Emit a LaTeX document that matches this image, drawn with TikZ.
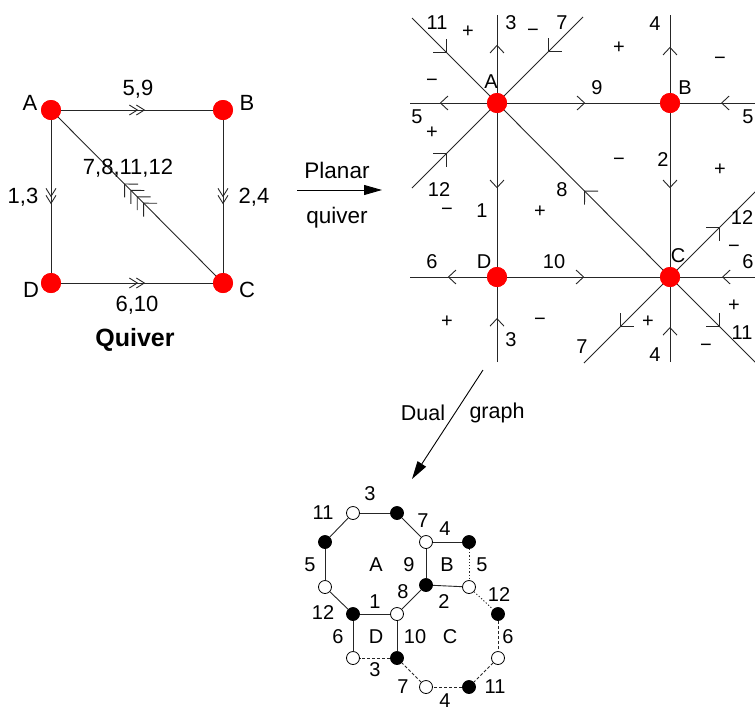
\documentclass[tikz,border=0pt]{standalone}
\usepackage{fontspec}
\setmainfont{Liberation Sans}
\usetikzlibrary{arrows.meta,decorations.markings}
\tikzset{
  tipO/.tip={Straight Barb[length=7.5pt,width=14pt]},
  tipD/.tip={Straight Barb[length=9.5pt,width=19pt]},
  tipS/.tip={Straight Barb[length=8pt,width=10pt]},
}
\begin{document}
\begin{tikzpicture}[x=1pt,y=-1pt,
  qlbl/.style={font=\fontsize{22}{24}\selectfont, inner sep=0pt},
  lbl/.style={font=\fontsize{20}{22}\selectfont, inner sep=0pt},
  captxt/.style={font=\fontsize{22.5}{24}\selectfont, inner sep=0pt},
  sgn/.style={font=\fontsize{20}{22}\selectfont, inner sep=0pt},
  ttl/.style={font=\fontsize{25}{28}\selectfont\bfseries, inner sep=0pt},
  reddot/.style={circle, fill=red, minimum size=20pt, inner sep=0pt},
  bdot/.style={circle, draw=black, fill=black, line width=0.8pt, minimum size=13pt, inner sep=0pt},
  wdot/.style={circle, draw=black, fill=white, line width=0.8pt, minimum size=13pt, inner sep=0pt},
  edge/.style={line width=0.9pt, draw=black!85},
  dedge/.style={line width=0.9pt, draw=black!85, dash pattern=on 3pt off 2pt},
  oedge/.style={line width=0.9pt, draw=black!85, dash pattern=on 1.2pt off 2pt},
  mk/.style 2 args={postaction={decorate,decoration={markings,mark=at position #2 with {\arrow{#1}}}}},
  mkk/.style n args={3}{postaction={decorate,decoration={markings,mark=at position #2 with {\arrow{#1}},mark=at position #3 with {\arrow{#1}}}}},
  mkkkk/.style n args={5}{postaction={decorate,decoration={markings,mark=at position #2 with {\arrow{#1}},mark=at position #3 with {\arrow{#1}},mark=at position #4 with {\arrow{#1}},mark=at position #5 with {\arrow{#1}}}}},
  bigarrow/.style={line width=0.9pt, -{Triangle[length=18pt,width=10pt]}},
]
\useasboundingbox (0,0) rectangle (755,713);

% ---------------- Quiver ----------------
\node[reddot] (qA) at (51,110) {};
\node[reddot] (qB) at (223,110) {};
\node[reddot] (qC) at (223,283) {};
\node[reddot] (qD) at (51,283) {};
\draw[edge, mkk={tipS}{77pt}{84pt}] (qA) -- (qB);
\draw[edge, mkk={tipS}{77pt}{84pt}] (qA) -- (qD);
\draw[edge, mkk={tipS}{77pt}{84pt}] (qB) -- (qC);
\draw[edge, mkk={tipS}{77pt}{84pt}] (qD) -- (qC);
\draw[edge, mkkkk={tipD}{103pt}{112pt}{121pt}{130pt}] (qC) -- (qA);
\node[reddot] at (qA) {};
\node[reddot] at (qB) {};
\node[reddot] at (qC) {};
\node[reddot] at (qD) {};
\node[qlbl] (tqA) at (30,103) {A};
\node[qlbl] (tqB) at (247,103) {B};
\node[qlbl] (tqC) at (247,290) {C};
\node[qlbl] (tqD) at (31,290) {D};
\node[qlbl] (l59) at (138,89) {5,9};
\node[qlbl] (l13) at (23,197) {1,3};
\node[qlbl] (l24) at (254,197) {2,4};
\node[qlbl] (l610) at (137,305) {6,10};
\node[qlbl] (l7) at (128,168) {7,8,11,12};
\node[ttl] (tq) at (135,340) {Quiver};

% ---------------- Planar arrow ----------------
\coordinate (pa1) at (297,190);
\coordinate (pa2) at (382,190);
\draw[bigarrow] (pa1) -- (pa2);
\node[captxt] (tpl) at (337,170) {Planar};
\node[captxt] (tqv) at (337,218) {quiver};

% ---------------- Planar quiver ----------------
\node[reddot] (A) at (497,103) {};
\node[reddot] (B) at (670,103) {};
\node[reddot] (C) at (670,277) {};
\node[reddot] (D) at (497,277) {};
\coordinate (h1l) at (410,103);
\coordinate (h1r) at (760,103);
\coordinate (h2l) at (410,277);
\coordinate (h2r) at (760,277);
\coordinate (v1t) at (497,15);
\coordinate (v1b) at (497,362);
\coordinate (v2t) at (670,15);
\coordinate (v2b) at (670,362);
\coordinate (d11) at (412,18);
\coordinate (d7) at (583,17);
\coordinate (d12) at (412,188);
\coordinate (e12) at (760,187);
\coordinate (e7) at (584,363);
\coordinate (e11) at (760,367);

\draw[edge, mk={tipO}{47pt}] (A) -- (h1l);
\draw[edge, mk={tipO}{78pt}] (A) -- (B);
\draw[edge, mk={tipO}{39pt}] (h1r) -- (B);
\draw[edge, mk={tipO}{48pt}] (A) -- (v1t);
\draw[edge, mk={tipO}{75pt}] (A) -- (D);
\draw[edge, mk={tipO}{44pt}] (v1b) -- (D);
\draw[edge, mk={tipO}{46pt}] (B) -- (v2t);
\draw[edge, mk={tipO}{75pt}] (B) -- (C);
\draw[edge, mk={tipO}{35pt}] (v2b) -- (C);
\draw[edge, mk={tipO}{39pt}] (D) -- (h2l);
\draw[edge, mk={tipO}{77pt}] (D) -- (C);
\draw[edge, mk={tipO}{38pt}] (h2r) -- (C);
\draw[edge, mk={tipD}{49.5pt}] (d11) -- (A);
\draw[edge, mk={tipD}{49.5pt}] (d7) -- (A);
\draw[edge, mk={tipD}{49.5pt}] (d12) -- (A);
\draw[edge, mk={tipD}{111.6pt}] (C) -- (A);
\draw[edge, mk={tipD}{60.7pt}] (C) -- (e12);
\draw[edge, mk={tipD}{60.7pt}] (C) -- (e7);
\draw[edge, mk={tipD}{60pt}] (C) -- (e11);
\node[reddot] at (A) {};
\node[reddot] at (B) {};
\node[reddot] at (C) {};
\node[reddot] at (D) {};

\node[lbl] (tA) at (491,82) {A};
\node[lbl] (tB) at (685,88) {B};
\node[lbl] (tC) at (678,256) {C};
\node[lbl] (tD) at (484,262) {D};
\node[lbl] (p11) at (437,23) {11};
\node[lbl] (p3a) at (511,23) {3};
\node[lbl] (p7a) at (562,23) {7};
\node[lbl] (p4a) at (655,24) {4};
\node[lbl] (p5a) at (417,117) {5};
\node[lbl] (p9) at (597,88) {9};
\node[lbl] (p5b) at (748,117) {5};
\node[lbl] (p2) at (663,160) {2};
\node[lbl] (p12a) at (439,190) {12};
\node[lbl] (p8) at (562,190) {8};
\node[lbl] (p1) at (482,211) {1};
\node[lbl] (p12b) at (742,218) {12};
\node[lbl] (p6a) at (432,262) {6};
\node[lbl] (p10) at (554,262) {10};
\node[lbl] (p6b) at (748,262) {6};
\node[lbl] (p11b) at (742,333) {11};
\node[lbl] (p3b) at (511,340) {3};
\node[lbl] (p7b) at (582,347) {7};
\node[lbl] (p4b) at (655,355) {4};

\node[sgn] (s1) at (468,32) {+};
\node[sgn] (s2) at (533,33) {−};
\node[sgn] (s3) at (432,83) {−};
\node[sgn] (s4) at (432,133) {+};
\node[sgn] (s5) at (619,48) {+};
\node[sgn] (s6) at (720,61) {−};
\node[sgn] (s7) at (619,162) {−};
\node[sgn] (s8) at (720,170) {+};
\node[sgn] (s9) at (447,212) {−};
\node[sgn] (s10) at (540,212) {+};
\node[sgn] (s11) at (734,249) {−};
\node[sgn] (s12) at (734,306) {+};
\node[sgn] (s13) at (447,322) {+};
\node[sgn] (s14) at (540,322) {−};
\node[sgn] (s15) at (648,322) {+};
\node[sgn] (s16) at (706,348) {−};

% ---------------- Dual graph arrow ----------------
\coordinate (da1) at (483,370);
\coordinate (da2) at (412,479);
\draw[bigarrow] (da1) -- (da2);
\node[captxt, font=\fontsize{21.5}{24}\selectfont] (tdu) at (423,413) {Dual};
\node[captxt, font=\fontsize{21.5}{24}\selectfont] (tgr) at (497,413) {graph};

% ---------------- Dual graph ----------------
\node[wdot] (n1) at (353,513) {};
\node[bdot] (n2) at (397,513) {};
\node[bdot] (n3) at (325,542) {};
\node[wdot] (n4) at (426,542) {};
\node[bdot] (n5) at (469,542) {};
\node[wdot] (n6) at (325,587) {};
\node[bdot] (n7) at (426,585) {};
\node[wdot] (n8) at (469,587) {};
\node[bdot] (n9) at (353,614) {};
\node[wdot] (n10) at (397,614) {};
\node[bdot] (n11) at (498,614) {};
\node[wdot] (n12) at (353,658) {};
\node[bdot] (n13) at (397,658) {};
\node[wdot] (n14) at (498,658) {};
\node[wdot] (n15) at (426,687) {};
\node[bdot] (n16) at (469,687) {};

\draw[edge] (n1) -- (n2);
\draw[edge] (n2) -- (n4);
\draw[edge] (n1) -- (n3);
\draw[edge] (n3) -- (n6);
\draw[edge] (n6) -- (n9);
\draw[edge] (n9) -- (n10);
\draw[edge] (n10) -- (n7);
\draw[edge] (n7) -- (n4);
\draw[edge] (n4) -- (n5);
\draw[edge] (n7) -- (n8);
\draw[edge] (n9) -- (n12);
\draw[edge] (n10) -- (n13);
\draw[oedge] (n5) -- (n8);
\draw[oedge] (n8) -- (n11);
\draw[dedge] (n11) -- (n14);
\draw[dedge] (n14) -- (n16);
\draw[dedge] (n16) -- (n15);
\draw[dedge] (n15) -- (n13);
\draw[dedge] (n13) -- (n12);

\node[lbl] (g3a) at (370,494) {3};
\node[lbl] (g11a) at (323,513) {11};
\node[lbl] (g7a) at (423,521) {7};
\node[lbl] (g4a) at (445,529) {4};
\node[lbl] (g5a) at (310,565) {5};
\node[lbl] (gA) at (376,565) {A};
\node[lbl] (g9) at (409,565) {9};
\node[lbl] (gB) at (447,565) {B};
\node[lbl] (g5b) at (482,565) {5};
\node[lbl] (g8) at (403,592) {8};
\node[lbl] (g1) at (375,602) {1};
\node[lbl] (g2) at (444,602) {2};
\node[lbl] (g12a) at (323,613) {12};
\node[lbl] (g12b) at (499,595) {12};
\node[lbl] (g6a) at (338,637) {6};
\node[lbl] (gD) at (376,637) {D};
\node[lbl] (g10) at (415,637) {10};
\node[lbl] (gC) at (450,637) {C};
\node[lbl] (g6b) at (508,637) {6};
\node[lbl] (g3b) at (375,670) {3};
\node[lbl] (g7b) at (403,687) {7};
\node[lbl] (g11b) at (495,687) {11};
\node[lbl] (g4b) at (445,701) {4};
\end{tikzpicture}
\end{document}
